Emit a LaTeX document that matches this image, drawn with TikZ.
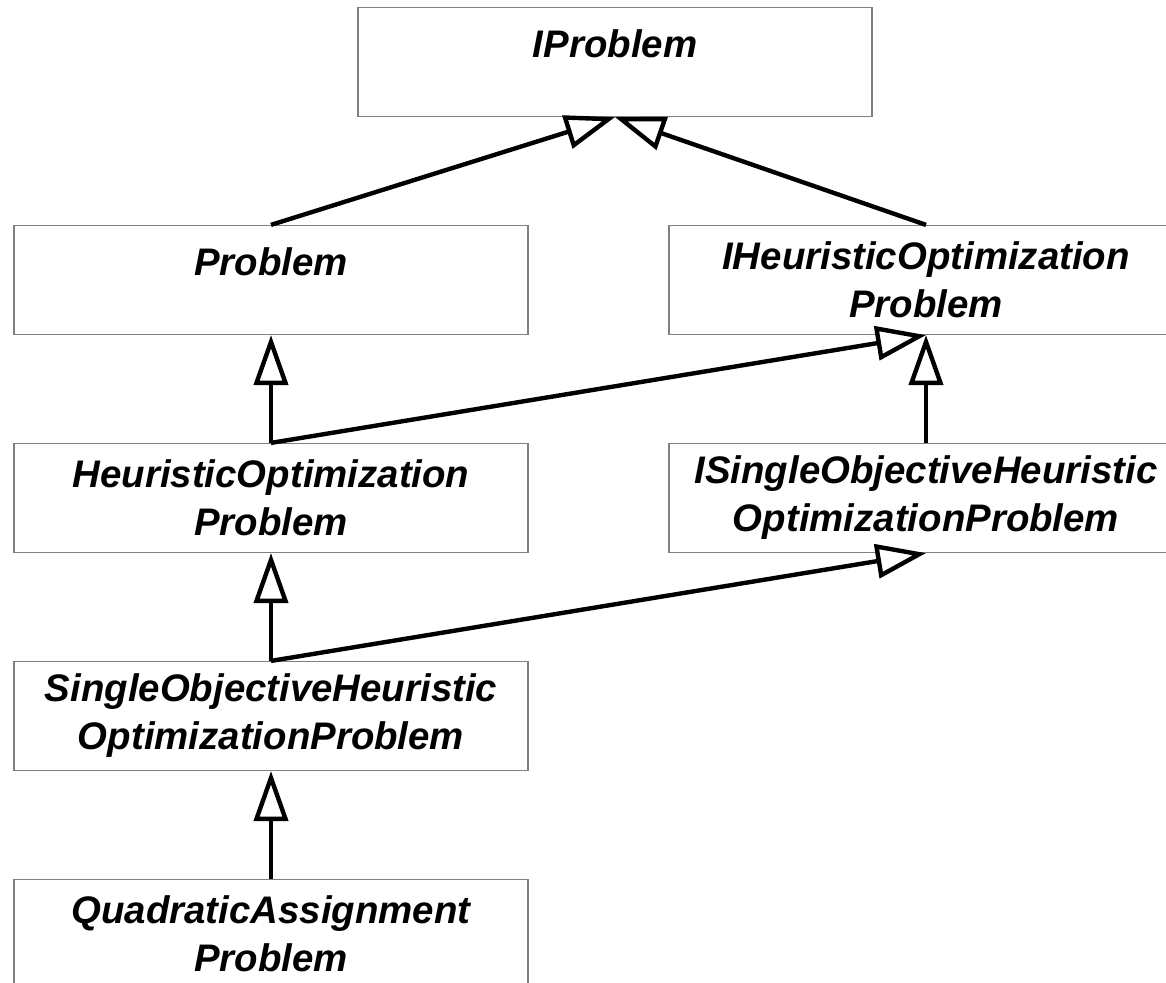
\documentclass[tikz,border=0pt]{standalone}
\usepackage{fontspec}
\setmainfont{Liberation Sans}
\usetikzlibrary{arrows.meta}
\begin{document}
\begin{tikzpicture}[x=0.5pt,y=-0.5pt,
    cls/.style={draw=gray,line width=0.6pt,minimum width=257pt,minimum height=54.5pt,
        align=center,inner sep=0pt,font=\fontsize{19.2}{24}\selectfont\bfseries\itshape},
    oneline/.style={text height=14pt,text depth=18pt},
    gen/.style={line width=2.2pt,-{Triangle[fill=white,length=25pt,width=17pt]}}]
                \useasboundingbox (0,0) rectangle (1166,983);
                \node[cls,oneline] (ip) at (615,62) {IProblem};
                \node[cls,oneline] (pb) at (271,280) {Problem};
                \node[cls] (ihop) at (926,280) {IHeuristicOptimization\\Problem};
                \node[cls] (hop) at (271,498) {HeuristicOptimization\\Problem};
                \node[cls] (ishop) at (926,498) {ISingleObjectiveHeuristic\\OptimizationProblem};
                \node[cls] (sohop) at (271,716) {SingleObjectiveHeuristic\\OptimizationProblem};
                \node[cls] (qap) at (271,934) {QuadraticAssignment\\Problem};
                \draw[gen] (pb.north) -- (ip.south);
                \draw[gen] (ihop.north) -- (ip.south);
                \draw[gen] (hop.north) -- (pb.south);
                \draw[gen] (hop.north) -- (ihop.south);
                \draw[gen] (ishop.north) -- (ihop.south);
                \draw[gen] (sohop.north) -- (hop.south);
                \draw[gen] (sohop.north) -- (ishop.south);
                \draw[gen] (qap.north) -- (sohop.south);
            \end{tikzpicture}
\end{document}
